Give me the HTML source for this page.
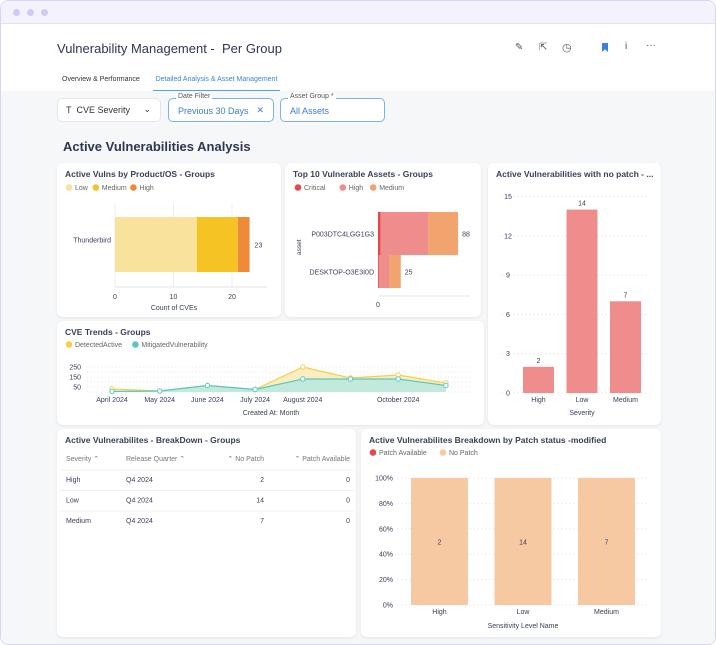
<!DOCTYPE html>
<html><head><meta charset="utf-8"><style>
*{box-sizing:border-box;margin:0;padding:0}
body{width:716px;height:645px;font-family:"Liberation Sans",sans-serif;background:#fff;position:relative;overflow:hidden;color:#2f3650}
.frame{position:absolute;left:0;top:0;width:716px;height:645px;border:1.5px solid #d9d6f5;border-radius:8px;overflow:hidden;background:#fff}
.topbar{position:absolute;left:0;top:0;right:0;height:23px;background:#f4f3fd;border-bottom:1px solid #e3e1f7}
.dot{position:absolute;top:8px;width:7px;height:7px;border-radius:50%;background:#cfcbf3}
.grey{position:absolute;left:0;top:90px;right:0;bottom:0;background:#f6f7f9}
.abs{position:absolute;white-space:nowrap}
.card{position:absolute;background:#fff;border-radius:6px;box-shadow:0 1px 3px rgba(0,0,0,0.08)}
.ct{position:absolute;left:8px;top:6px;font-size:8.5px;font-weight:bold;color:#3a4058}
.box{position:absolute;height:24px;border-radius:5px;background:#fff}
svg text{font-family:"Liberation Sans",sans-serif}
</style></head><body>
<div class="frame">
<div class="topbar">
<div class="dot" style="left:12px"></div><div class="dot" style="left:26px"></div><div class="dot" style="left:40px"></div></div>
<div class="grey"></div>
<div class="abs" style="left:56px;top:40px;font-size:13px;color:#2f3650">Vulnerability Management -&nbsp; Per Group</div>
<div class="abs" style="left:514px;top:41px;font-size:10px;color:#555">✎</div>
<div class="abs" style="left:538px;top:41px;font-size:10px;color:#555">⇱</div>
<div class="abs" style="left:561px;top:40px;font-size:11px;color:#555">◷</div>
<div class="abs" style="left:601px;top:42px;width:6px;height:9px;background:#3c7fe0;clip-path:polygon(0 0,100% 0,100% 100%,50% 70%,0 100%)"></div>
<div class="abs" style="left:624px;top:40px;font-size:10px;color:#555">i</div>
<div class="abs" style="left:645px;top:39px;font-size:10px;color:#555">···</div>
<div class="abs" style="left:61px;top:75px;font-size:7px;color:#333">Overview &amp; Performance</div>
<div class="abs" style="left:152px;top:75px;width:127px;height:15px;font-size:7px;color:#3c86d6;text-align:center;border-bottom:1.5px solid #5aa0e0">Detailed Analysis &amp; Asset Management</div>

<div class="box" style="left:56px;top:97px;width:104px;border:1px solid #e3e5ea;font-size:9px;color:#333;padding:6px 8px">T&nbsp; CVE Severity<span style="position:absolute;right:9px;top:5px">⌄</span></div>
<div class="box" style="left:167px;top:97px;width:106px;border:1.5px solid #7ab3e6;font-size:9px;color:#3c7fd0;padding:7px 9px">Previous 30 Days<span style="position:absolute;right:9px;top:6px">✕</span><span style="position:absolute;left:7px;top:-6px;background:#fff;padding:0 2px;font-size:7px;color:#555">Date Filter</span></div>
<div class="box" style="left:279px;top:97px;width:105px;border:1.5px solid #7ab3e6;font-size:9px;color:#3c7fd0;padding:7px 9px">All Assets<span style="position:absolute;left:7px;top:-6px;background:#fff;padding:0 2px;font-size:7px;color:#555">Asset Group *</span></div>
<div class="abs" style="left:62px;top:138px;font-size:13px;font-weight:bold;color:#2f3650">Active Vulnerabilities Analysis</div>

<!-- Card 1 -->
<div class="card" style="left:56px;top:162px;width:224px;height:154px"><div class="ct">Active Vulns by Product/OS - Groups</div></div>
<!-- Card 2 -->
<div class="card" style="left:284px;top:162px;width:196px;height:154px"><div class="ct">Top 10 Vulnerable Assets - Groups</div></div>
<!-- Card 3 -->
<div class="card" style="left:487px;top:162px;width:173px;height:262px"><div class="ct">Active Vulnerabilities with no patch - ...</div></div>
<!-- trends -->
<div class="card" style="left:56px;top:320px;width:427px;height:104px"><div class="ct">CVE Trends - Groups</div></div>
<!-- table -->
<div class="card" style="left:56px;top:428px;width:299px;height:208px"><div class="ct">Active Vulnerabilites - BreakDown - Groups</div></div>
<div class="card" style="left:360px;top:428px;width:300px;height:208px"><div class="ct">Active Vulnerabilites Breakdown by Patch status -modified</div></div>

<svg id="svg" width="716" height="645" style="position:absolute;left:0;top:0" font-size="7" fill="#3a4058"></svg>
</div>
<script>
// Chart 1 data
const c1Cats=["Thunderbird"];const c1Low=[14];const c1Med=[7];const c1High=[2];const c1Ticks=[0,10,20];
// Chart 2 data
const c2Cats=["P003DTC4LGG1G3","DESKTOP-O3E3I0D"];const c2Crit=[3];c2Crit.push(1);const c2High=[52,12];const c2Med=[33,12];
// Chart 3 data
const c3Cats=["High","Low","Medium"];const c3Vals=[2,14,7];const c3Ticks=[0,3,6,9,12,15];
// Trends data
const trMonths=["April 2024","May 2024","June 2024","July 2024","August 2024","September 2024","October 2024","November 2024"];
const trDetected=[30,10,65,25,250,140,170,90];const trMitigated=[5,10,65,25,130,130,130,65];const trTicks=[50,150,250];
const trShownLabels=["April 2024","May 2024","June 2024","July 2024","August 2024","October 2024"];
// Table data
const tbSev=["High","Low","Medium"];const tbQuarter=["Q4 2024","Q4 2024","Q4 2024"];const tbNoPatch=[2,14,7];const tbPatch=[0,0,0];
// Patch chart data
const pcCats=["High","Low","Medium"];const pcNoPatch=[2,14,7];const pcPatchAvail=[0,0,0];const pcTicks=[0,20,40,60,80,100];

const svg=document.getElementById('svg');const NS="http://www.w3.org/2000/svg";
function mk(t,a,parent){const e=document.createElementNS(NS,t);for(const k in a)e.setAttribute(k,a[k]);(parent||svg).appendChild(e);return e;}
function tx(x,y,s,a){const e=mk('text',Object.assign({x:x,y:y},a||{}));e.textContent=s;return e;}
function legend(items,x,y){items.forEach(([c,l])=>{const g=mk('g',{});


mk('circle',{cx:x,cy:y-2.5,r:3.3,fill:c},g);const t=mk('text',{x:x+6,y:y,fill:'#666'},g);t.textContent=l;x+=l.length*3.6+16;});}

// Chart 1
legend([["#f9e29b","Low"],["#f6c324","Medium"],["#ee8a38","High"]],68,189);
const x1=v=>114+v*5.85;
c1Ticks.forEach(t=>{mk('line',{x1:x1(t),x2:x1(t),y1:202,y2:286,stroke:'#eee'});tx(x1(t),298,t,{'text-anchor':'middle'});});
mk('line',{x1:114,x2:266,y1:286,y2:286,stroke:'#e3e3e3'});
c1Cats.forEach((c,i)=>{const y=216,h=55;let s=0;
[[c1Low[i],'#f9e29b'],[c1Med[i],'#f6c324'],[c1High[i],'#ee8a38']].forEach(([v,col])=>{const r=mk('rect',{x:x1(s),y:y,width:x1(s+v)-x1(s),height:h,fill:col});

s+=v;});
tx(x1(s)+5,y+h/2+3,s);tx(110,y+h/2-2,c,{'text-anchor':'end'});});
tx(173,309,"Count of CVEs",{'text-anchor':'middle'});

// Chart 2
legend([["#e5484d","Critical"],["#ef8c8c","High"],["#f2a46f","Medium"]],297,189);
const x2=v=>377+v*0.91;
mk('line',{x1:377,x2:469,y1:295,y2:295,stroke:'#e3e3e3'});tx(377,306,"0",{'text-anchor':'middle'});
c2Cats.forEach((c,i)=>{const y=i==0?211:254,h=i==0?43:33;let s=0;
[[c2Crit[i],'#e5484d'],[c2High[i],'#ef8c8c'],[c2Med[i],'#f2a46f']].forEach(([v,col])=>{const r=mk('rect',{x:x2(s),y:y,width:x2(s+v)-x2(s),height:h,fill:col});

s+=v;});
tx(x2(s)+4,y+h/2+3,s);tx(373,y+h/2+3,c,{'text-anchor':'end'});});
tx(0,0,"asset",{transform:'translate(300,254) rotate(-90)',"font-size":6.5});

// Chart 3
const y3=v=>392-v*13.1;
c3Ticks.forEach(t=>{mk('line',{x1:500,x2:648,y1:y3(t),y2:y3(t),stroke:'#eee','stroke-dasharray':'2 2'});tx(507,y3(t)+2.5,t,{'text-anchor':'middle'});});
c3Cats.forEach((c,i)=>{const x=522+i*43.5;const r=mk('rect',{x:x,y:y3(c3Vals[i]),width:31,height:y3(0)-y3(c3Vals[i]),fill:'#ef8c8c'});


tx(x+15.5,y3(c3Vals[i])-4,c3Vals[i],{'text-anchor':'middle'});tx(x+15.5,401,c,{'text-anchor':'middle'});});
tx(581,414,"Severity",{'text-anchor':'middle'});

// Trends
legend([["#f6cf4a","DetectedActive"],["#5bc8c0","MitigatedVulnerability"]],68,346);
const xt=i=>111+i*47.7, yt=v=>391-v*0.1;
[0,50,100,150,200,250].forEach(t=>mk('line',{x1:86,x2:470,y1:yt(t),y2:yt(t),stroke:'#eee','stroke-dasharray':'1.5 2'}));
trTicks.forEach(t=>tx(80,yt(t)+2.5,t,{'text-anchor':'end'}));
function area(arr,fill,stroke,name){let p=arr.map((v,i)=>xt(i)+','+yt(v)).join(' ');
mk('polygon',{points:xt(0)+','+yt(0)+' '+p+' '+xt(arr.length-1)+','+yt(0),fill:fill});
const l=mk('polyline',{points:p,fill:'none',stroke:stroke,'stroke-width':1.2});


arr.forEach((v,i)=>mk('circle',{cx:xt(i),cy:yt(v),r:2.2,fill:'#fff',stroke:stroke,'stroke-width':1}));}
area(trDetected,'rgba(249,226,155,0.6)','#f6cf4a','detected-line');
area(trMitigated,'rgba(180,232,226,0.8)','#5bc8c0','mitigated-line');
trMonths.forEach((m,i)=>{if(trShownLabels.includes(m))tx(xt(i),401,m,{'text-anchor':'middle'});});
tx(270,414,"Created At: Month",{'text-anchor':'middle'});

// Table
const cols=[[65,'start'],[125,'start'],[263,'end'],[349,'end']];
[["Severity ⌃"],["Release Quarter ⌃"],["⌃ No Patch"],["⌃ Patch Available"]].forEach((h,i)=>tx(cols[i][0],460,h[0],{'text-anchor':cols[i][1],fill:'#777'}));
tbSev.forEach((s,r)=>{const y=481+r*20.5;mk('line',{x1:58,x2:353,y1:y-12,y2:y-12,stroke:'#f0f0f0'});
[s,tbQuarter[r],tbNoPatch[r],tbPatch[r]].forEach((v,i)=>tx(cols[i][0],y,v,{'text-anchor':cols[i][1]}));});

// Patch chart
legend([["#e5484d","Patch Available"],["#f7c9a3","No Patch"]],372,454);
const yp=v=>604-v*1.27;
pcTicks.forEach(t=>{mk('line',{x1:396,x2:648,y1:yp(t),y2:yp(t),stroke:'#eee','stroke-dasharray':'2 2'});tx(392,yp(t)+2.5,t+'%',{'text-anchor':'end'});});
pcCats.forEach((c,i)=>{const x=410+i*83.5;const tot=pcNoPatch[i]+pcPatchAvail[i];const pct=100*pcNoPatch[i]/tot;
const r=mk('rect',{x:x,y:yp(pct),width:57,height:yp(0)-yp(pct),fill:'#f7c9a3'});


tx(x+28.5,(yp(pct)+yp(0))/2+3,pcNoPatch[i],{'text-anchor':'middle'});tx(x+28.5,613,c,{'text-anchor':'middle'});});
tx(522,627,"Sensitivity Level Name",{'text-anchor':'middle'});
</script>
</body></html>
